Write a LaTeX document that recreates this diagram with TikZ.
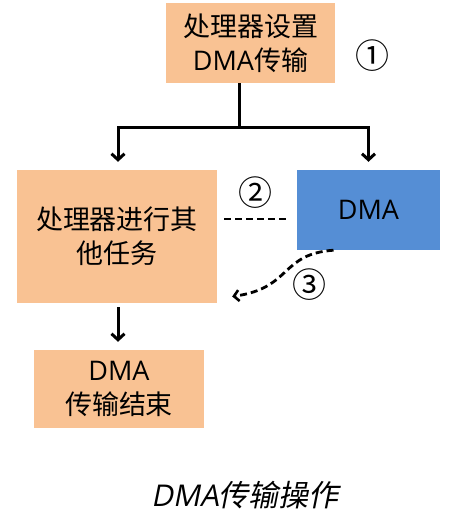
\documentclass[tikz,border=0pt]{standalone}
\usepackage{fontspec}
\setmainfont{Noto Sans CJK SC}
\newfontfamily\capfont[FakeSlant=0.2]{Noto Sans CJK SC}
\newfontfamily\lat{Open Sans}
\newfontfamily\latsl[FakeSlant=0.2]{Open Sans}
\usetikzlibrary{arrows.meta}
\definecolor{boxorange}{HTML}{F9C293}
\definecolor{boxblue}{HTML}{558ED5}
\tikzset{
  obox/.style={fill=boxorange, draw=none, align=center, inner sep=0pt, font=\fontsize{27}{34}\selectfont},
  bbox/.style={fill=boxblue, draw=none, align=center, inner sep=0pt, font=\fontsize{27}{34}\selectfont},
  conn/.style={line width=3pt, -{Straight Barb[length=6pt,width=13pt,line width=3pt]}},
  plain/.style={line width=3pt},
  dconn/.style={line width=2.8pt, dash pattern=on 7pt off 4pt},
  num/.style={font=\fontsize{34}{34}\selectfont, inner sep=0pt}
}
\begin{document}
\begin{tikzpicture}[x=1pt,y=-1pt]
\useasboundingbox (0,0) rectangle (451,520);
\node[obox, minimum width=169pt, minimum height=80pt] (top) at (250.5,43) {处理器设置\\{\lat DMA}传输};
\node[obox, minimum width=200pt, minimum height=133pt] (left) at (117,236.5) {处理器进行其\\他任务};
\node[bbox, minimum width=143pt, minimum height=80pt] (dma) at (368.5,210) {\lat DMA};
\node[obox, minimum width=170pt, minimum height=78pt] (bot) at (119,389) {{\lat DMA}\\传输结束};
\node[num] (n1) at (372,56) {①};
\node[num] (n2) at (255,193) {②};
\node[num] (n3) at (309,285) {③};
\node[font=\capfont\fontsize{30}{30}\selectfont, inner sep=0pt] (cap) at (245,495) {{\latsl DMA}传输操作};
\coordinate (j) at (239,127);
\coordinate (jl) at (118,127);
\draw[plain] (j |- top.south) -- (j);
\draw[conn] (j) -- (jl) -- ([yshift=8pt]left.north -| jl);
\draw[conn] (j) -| ([yshift=8pt]dma.north);
\draw[conn] (jl |- left.south) ++(0,4) -- ([yshift=8pt]bot.north -| jl);
\coordinate (d) at (0,219);
\draw[dconn, shorten <=7pt, shorten >=7pt] (left.east |- d) -- (dma.west |- d);
\coordinate (cs) at ([xshift=-35pt]dma.south);
\coordinate (ce) at ([xshift=15pt,yshift=-60pt]left.east);
\draw[dconn, -{Straight Barb[length=5pt,width=11pt,line width=2.6pt]}] (cs) .. controls (280,254) and (292,288) .. (ce);
\end{tikzpicture}
\end{document}
